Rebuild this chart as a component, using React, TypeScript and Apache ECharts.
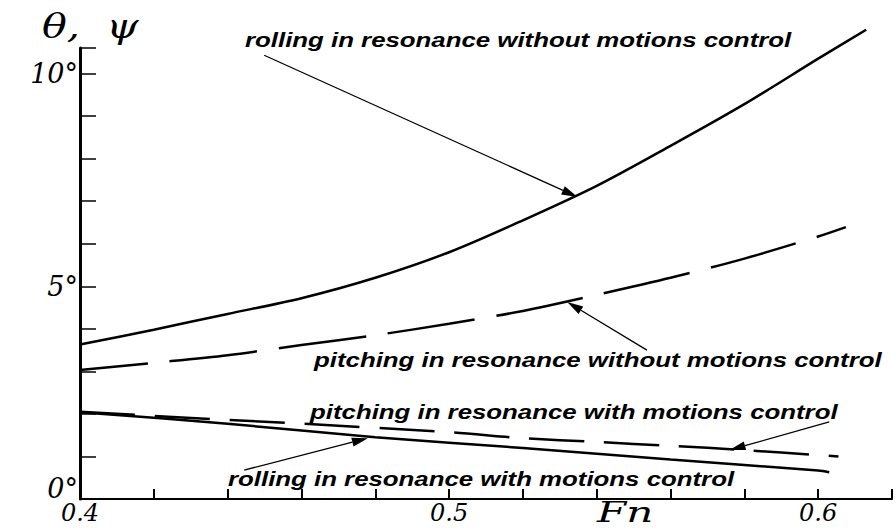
import React, { useEffect, useRef } from "react";
import * as echarts from "echarts";

// Fn values and amplitudes (degrees)
const rollWithoutFn = [0.4, 0.42, 0.44, 0.46, 0.48, 0.5, 0.52, 0.54, 0.56, 0.58, 0.6, 0.613];
const rollWithoutVal = [3.63, 3.98, 4.35, 4.72, 5.2, 5.8, 6.55, 7.36, 8.3, 9.28, 10.35, 11.03];

const pitchWithoutFn = [0.4, 0.42, 0.44, 0.46, 0.48, 0.5, 0.52, 0.54, 0.56, 0.58, 0.6, 0.6075];
const pitchWithoutVal = [3.03, 3.2, 3.38, 3.62, 3.85, 4.12, 4.42, 4.8, 5.2, 5.65, 6.17, 6.39];

const rollWithFn = [0.4, 0.44, 0.48, 0.52, 0.56, 0.6, 0.603];
const rollWithVal = [2.04, 1.77, 1.45, 1.2, 0.93, 0.67, 0.63];

const pitchWithFn = [0.4, 0.44, 0.46, 0.5, 0.52, 0.54, 0.56, 0.58, 0.6, 0.6055];
const pitchWithVal = [2.05, 1.86, 1.77, 1.57, 1.43, 1.34, 1.25, 1.15, 1.03, 1.0];

const xTickLabels = [0.4, 0.5, 0.6];
const yTickLabels = [0, 5, 10];

const annotationTexts = [
  "rolling in resonance without motions control",
  "pitching in resonance without motions control",
  "pitching in resonance with motions control",
  "rolling in resonance with motions control",
];

// arrows: [tail, tip] in data coordinates
const arrows: [number, number][][] = [
  [[0.4499, 10.43], [0.5348, 7.1]],
  [[0.5536, 3.5], [0.532, 4.63]],
  [[0.603, 1.81], [0.576, 1.15]],
  [[0.4445, 0.68], [0.478, 1.43]],
];

const zip = (xs: number[], ys: number[]) => xs.map((x, i) => [x, ys[i]]);

export default function App() {
  const ref = useRef<HTMLDivElement>(null);
  useEffect(() => {
    const chart = echarts.init(ref.current!, null, { renderer: "svg" });
    const lineBase = { type: "line", symbol: "none", smooth: 0.3, clip: false, silent: true };
    chart.setOption({
      animation: false,
      backgroundColor: "#fff",
      grid: { left: 80, right: 0, top: 48, bottom: 32, containLabel: false },
      xAxis: {
        type: "value",
        min: 0.4,
        max: 0.62,
        interval: 0.02,
        axisLine: { lineStyle: { color: "#000", width: 2 } },
        axisTick: { inside: true, length: 10, lineStyle: { color: "#000", width: 2 } },
        splitLine: { show: false },
        axisLabel: {
          color: "#000",
          fontFamily: "DejaVu Serif",
          fontStyle: "italic",
          fontSize: 24,
          margin: 2,
          formatter: (v: number) => {
            const hit = xTickLabels.find((t) => Math.abs(t - v) < 1e-6);
            return hit !== undefined ? hit.toFixed(1) : "";
          },
        },
      },
      yAxis: {
        type: "value",
        min: 0,
        max: 10.6,
        interval: 1,
        axisLine: { lineStyle: { color: "#000", width: 3 } },
        axisTick: { inside: true, length: 16, lineStyle: { color: "#000", width: 1.5 } },
        splitLine: { show: false },
        axisLabel: {
          color: "#000",
          fontFamily: "DejaVu Serif",
          fontStyle: "italic",
          fontSize: 27,
          margin: 2,
          formatter: (v: number) => {
            const hit = yTickLabels.find((t) => Math.abs(t - v) < 1e-6);
            if (hit === undefined) return "";
            return hit === 0 ? "{z|0°}" : hit + "°";
          },
          rich: {
            z: {
              fontFamily: "DejaVu Serif",
              fontStyle: "italic",
              fontSize: 27,
              color: "#000",
              padding: [0, 0, 22, 0],
            },
          },
        },
      },
      series: [
        { ...lineBase, name: "rolling without", data: zip(rollWithoutFn, rollWithoutVal), lineStyle: { color: "#000", width: 2.5 } },
        { ...lineBase, name: "pitching without", data: zip(pitchWithoutFn, pitchWithoutVal), lineStyle: { color: "#000", width: 2.5, type: [88, 22], dashOffset: 20 } },
        { ...lineBase, name: "rolling with", data: zip(rollWithFn, rollWithVal), lineStyle: { color: "#000", width: 2.5 } },
        { ...lineBase, name: "pitching with", data: zip(pitchWithFn, pitchWithVal), lineStyle: { color: "#000", width: 2.5, type: [55, 20] } },
      ],
    });

    const px = (p: number[]) => chart.convertToPixel({ gridIndex: 0 }, p) as number[];
    const elements: any[] = [];
    arrows.forEach(([tail, tip]) => {
      const a = px(tail);
      const b = px(tip);
      const dx = b[0] - a[0];
      const dy = b[1] - a[1];
      const len = Math.sqrt(dx * dx + dy * dy);
      const ux = dx / len;
      const uy = dy / len;
      const hl = 16;
      const hw = 4.5;
      const bx = b[0] - ux * hl;
      const by = b[1] - uy * hl;
      elements.push({
        type: "line",
        shape: { x1: a[0], y1: a[1], x2: bx, y2: by },
        style: { stroke: "#000", lineWidth: 1.3 },
      });
      elements.push({
        type: "polygon",
        shape: {
          points: [
            [b[0], b[1]],
            [bx - uy * hw, by + ux * hw],
            [bx + uy * hw, by - ux * hw],
          ],
        },
        style: { fill: "#000" },
      });
    });

    const textPos = [
      [245, 40],
      [314, 360],
      [310, 412],
      [228, 479],
    ];
    annotationTexts.forEach((t, i) => {
      elements.push({
        type: "text",
        x: textPos[i][0],
        y: textPos[i][1],
        scaleX: 1.23,
        style: {
          text: t,
          fill: "#000",
          fontFamily: "Liberation Sans",
          fontWeight: "bold",
          fontStyle: "italic",
          fontSize: 21,
          textAlign: "left",
          textVerticalAlign: "middle",
          verticalAlign: "middle",
        },
      });
    });

    elements.push({
      type: "text",
      x: 42,
      y: 27,
      scaleX: 1.25,
      style: {
        text: "θ,  ψ",
        fill: "#000",
        fontFamily: "DejaVu Serif",
        fontStyle: "italic",
        fontSize: 33,
        textVerticalAlign: "middle",
        verticalAlign: "middle",
      },
    });
    elements.push({
      type: "text",
      x: 597,
      y: 512,
      scaleX: 1.5,
      style: {
        text: "Fn",
        fill: "#000",
        fontFamily: "DejaVu Serif",
        fontStyle: "italic",
        fontSize: 28,
        textVerticalAlign: "middle",
        verticalAlign: "middle",
      },
    });

    chart.setOption({ graphic: elements });
    return () => chart.dispose();
  }, []);
  return <div ref={ref} style={{ position: "absolute", left: 0, top: 0, width: 895, height: 531 }} />;
}
